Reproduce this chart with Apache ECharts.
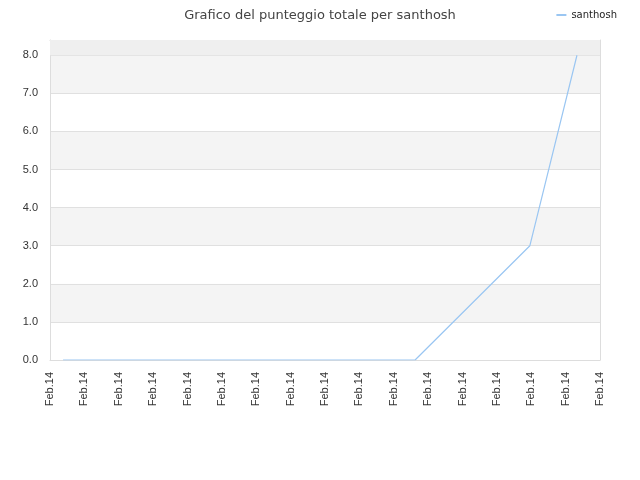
<!DOCTYPE html>
<html lang="it">
<head>
  <meta charset="utf-8">
  <title>Grafico del punteggio totale per santhosh</title>
  <style>
    * { margin: 0; padding: 0; }
    #chart-container { width: 640px; height: 480px; }
  </style>
</head>
<body>
  <div id="chart-container"></div>
  <script src="https://fastly.jsdelivr.net/npm/echarts@6/dist/echarts.min.js"></script>
  <script>
    // dati (x = posizione sull'asse temporale, in passi di tick)
    var seriesName = 'santhosh';
    var xValues = [0.38, 10.62, 13.96, 15.33];
    var scores = [0, 0, 3, 8];
    var tickLabel = 'Feb.14';

    var points = xValues.map(function (x, i) { return [x, scores[i]]; });

    var myChart = echarts.init(document.getElementById('chart-container'), null, { renderer: 'canvas' });

    // assi solo per il bordo superiore e destro
    var borderAxis = {
      axisLine: { show: true, onZero: false, lineStyle: { color: '#ddd' } },
      axisTick: { show: false },
      axisLabel: { show: false },
      splitLine: { show: false }
    };

    var option = {
      animation: false,
      backgroundColor: '#fff',
      title: {
        text: 'Grafico del punteggio totale per santhosh',
        left: 'center',
        top: 4,
        textStyle: { fontFamily: 'DejaVu Sans', fontSize: 13, fontWeight: 'normal', color: '#444' }
      },
      legend: {
        right: 18,
        top: 5,
        itemWidth: 10,
        itemHeight: 2,
        icon: 'rect',
        textStyle: { fontFamily: 'DejaVu Sans', fontSize: 10, color: '#222' },
        data: [seriesName]
      },
      grid: {
        left: 50, right: 40, top: 40, bottom: 120
      },
      xAxis: [
        {
          type: 'value',
          min: 0,
          max: 16,
          interval: 1,
          axisLine: { show: true, onZero: false, lineStyle: { color: '#ddd' } },
          axisTick: { show: false },
          splitLine: { show: false },
          axisLabel: {
            rotate: 90,
            margin: 12,
            fontFamily: 'Liberation Sans',
            fontSize: 11,
            color: '#333',
            formatter: function () { return tickLabel; }
          }
        },
        Object.assign({ type: 'value', position: 'top', min: 0, max: 16 }, borderAxis)
      ],
      yAxis: [
        {
          type: 'value',
          min: 0,
          max: 8.4,
          interval: 1,
          axisLine: { show: true, onZero: false, lineStyle: { color: '#ddd' } },
          axisTick: { show: false },
          splitLine: { show: true, lineStyle: { color: '#e0e0e0' } },
          splitArea: { show: true, areaStyle: { color: ['#ffffff', '#f4f4f4'] } },
          axisLabel: {
            showMaxLabel: false,
            margin: 12,
            fontFamily: 'Liberation Sans',
            fontSize: 11,
            color: '#333',
            formatter: function (v) { return v.toFixed(1); }
          }
        },
        Object.assign({ type: 'value', position: 'right', min: 0, max: 8.4 }, borderAxis)
      ],
      series: [
        {
          name: seriesName,
          type: 'line',
          data: points,
          showSymbol: false,
          lineStyle: { color: '#9ac6f2', width: 1.2 },
          itemStyle: { color: '#9ac6f2' },
          markArea: {
            silent: true,
            itemStyle: { color: '#efefef' },
            data: [[{ yAxis: 8 }, { yAxis: 8.4 }]]
          }
        }
      ]
    };

    myChart.setOption(option);
    window.addEventListener('resize', myChart.resize);
  </script>
</body>
</html>
